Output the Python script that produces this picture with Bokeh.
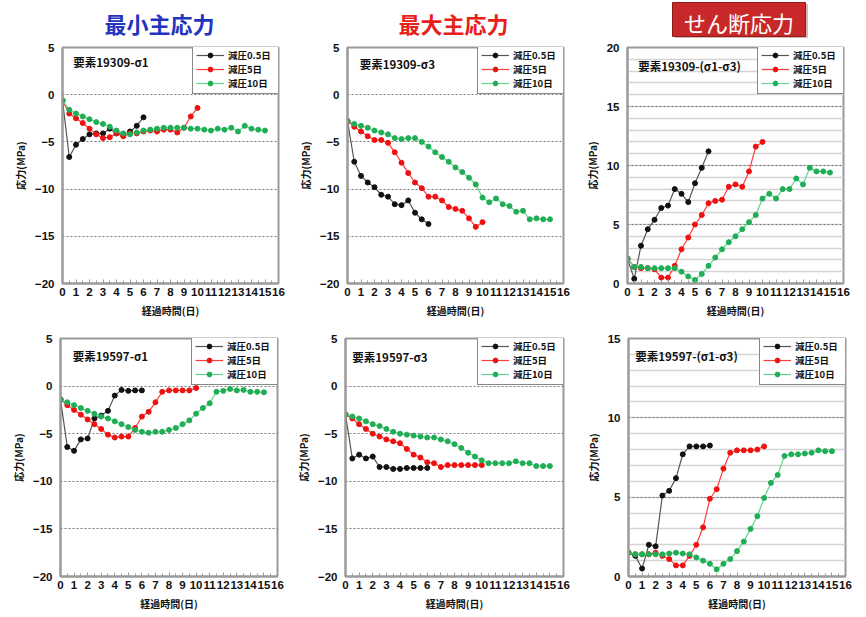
from bokeh.plotting import figure
from bokeh.layouts import column, row
from bokeh.models import Range1d, SingleIntervalTicker, Label
from bokeh.embed import file_html
from bokeh.resources import INLINE
from bokeh.core.properties import value

# ---------------- data ----------------
# elapsed days (0.5-day steps)
t_05 = [0, 0.5, 1, 1.5, 2, 2.5, 3, 3.5, 4, 4.5, 5, 5.5, 6]
t_5 = [0, 0.5, 1, 1.5, 2, 2.5, 3, 3.5, 4, 4.5, 5, 5.5, 6, 6.5, 7, 7.5, 8, 8.5, 9, 9.5, 10]
t_10 = [0, 0.5, 1, 1.5, 2, 2.5, 3, 3.5, 4, 4.5, 5, 5.5, 6, 6.5, 7, 7.5, 8, 8.5, 9, 9.5,
        10, 10.5, 11, 11.5, 12, 12.5, 13, 13.5, 14, 14.5, 15]

series_names = ["減圧0.5日", "減圧5日", "減圧10日"]
headers = ["最小主応力", "最大主応力", "せん断応力"]
x_title = "経過時間(日)"
y_title = "応力(MPa)"

# element 19309, sigma1
e19309_s1_05 = [-0.6, -6.6, -5.3, -4.7, -4.2, -4.1, -4.1, -3.6, -4.1, -4.3, -3.9, -3.3, -2.4]
e19309_s1_5 = [-0.6, -2.0, -2.5, -3.0, -3.6, -4.2, -4.6, -4.5, -4.1, -4.4, -4.1, -4.1, -3.9,
               -3.8, -3.9, -3.7, -3.7, -4.0, -3.5, -2.3, -1.4]
e19309_s1_10 = [-0.6, -1.6, -2.0, -2.3, -2.6, -2.9, -3.1, -3.4, -3.8, -4.1, -4.2, -4.0, -3.8,
                -3.7, -3.6, -3.5, -3.5, -3.5, -3.5, -3.6, -3.6, -3.7, -3.8, -3.6, -3.7, -3.5,
                -3.9, -3.3, -3.6, -3.7, -3.8]
# element 19309, sigma3
e19309_s3_05 = [-2.8, -7.1, -8.6, -9.3, -9.8, -10.6, -10.8, -11.6, -11.7, -11.2, -12.5, -13.2, -13.7]
e19309_s3_5 = [-2.8, -3.4, -3.9, -4.4, -4.8, -4.8, -5.1, -6.1, -7.2, -8.3, -9.3, -9.9, -10.8,
               -10.8, -11.2, -11.9, -12.1, -12.3, -13.1, -14.0, -13.5]
e19309_s3_10 = [-2.8, -3.1, -3.3, -3.5, -3.8, -4.0, -4.2, -4.6, -4.7, -4.6, -4.6, -5.0, -5.5,
                -6.1, -6.6, -7.1, -7.7, -8.2, -8.8, -9.5, -10.9, -11.4, -11.0, -11.6, -11.8,
                -12.4, -12.3, -13.2, -13.1, -13.2, -13.2]
# element 19309, sigma1 - sigma3
e19309_sh_05 = [2.1, 0.4, 3.2, 4.6, 5.4, 6.4, 6.6, 8.0, 7.6, 6.9, 8.5, 9.8, 11.2]
e19309_sh_5 = [2.1, 1.4, 1.3, 1.3, 1.2, 0.5, 0.5, 1.5, 2.9, 3.9, 5.0, 5.8, 6.8, 7.0, 7.1, 8.2,
               8.4, 8.2, 9.5, 11.6, 12.0]
e19309_sh_10 = [2.1, 1.4, 1.4, 1.3, 1.3, 1.3, 1.3, 1.3, 1.0, 0.6, 0.3, 0.8, 1.5, 2.2, 2.9, 3.5,
                4.0, 4.6, 5.2, 5.8, 7.2, 7.6, 7.2, 8.0, 8.0, 8.9, 8.4, 9.8, 9.5, 9.5, 9.4]
# element 19597, sigma1
e19597_s1_05 = [-1.4, -6.4, -6.8, -5.6, -5.5, -3.4, -3.1, -2.6, -1.0, -0.4, -0.5, -0.45, -0.45]
e19597_s1_5 = [-1.4, -2.0, -2.5, -3.0, -3.5, -4.0, -4.5, -5.1, -5.4, -5.3, -5.3, -4.4, -3.2,
               -2.7, -1.7, -0.6, -0.45, -0.45, -0.45, -0.45, -0.2]
e19597_s1_10 = [-1.4, -1.7, -2.0, -2.3, -2.6, -2.9, -3.2, -3.4, -3.7, -4.0, -4.3, -4.6, -4.8,
                -4.9, -4.8, -4.8, -4.6, -4.4, -4.0, -3.6, -2.9, -2.3, -1.8, -0.6, -0.5, -0.3,
                -0.45, -0.4, -0.6, -0.6, -0.65]
# element 19597, sigma3
e19597_s3_05 = [-3.0, -7.6, -7.2, -7.6, -7.4, -8.5, -8.5, -8.7, -8.7, -8.6, -8.6, -8.6, -8.6]
e19597_s3_5 = [-3.0, -3.4, -4.0, -4.5, -5.0, -5.3, -5.6, -5.8, -6.0, -6.6, -7.2, -7.5, -8.0,
               -8.1, -8.5, -8.3, -8.3, -8.3, -8.3, -8.3, -8.3]
e19597_s3_10 = [-3.0, -3.2, -3.4, -3.7, -4.0, -4.2, -4.5, -4.8, -5.0, -5.1, -5.2, -5.3, -5.4,
                -5.4, -5.6, -5.8, -6.1, -6.5, -7.0, -7.4, -7.8, -8.1, -8.1, -8.1, -8.1, -7.9,
                -8.1, -8.1, -8.4, -8.4, -8.4]
# element 19597, sigma1 - sigma3
e19597_sh_05 = [1.5, 1.3, 0.5, 2.0, 1.9, 5.1, 5.4, 6.2, 7.7, 8.2, 8.2, 8.2, 8.25]
e19597_sh_5 = [1.5, 1.4, 1.4, 1.4, 1.5, 1.3, 1.1, 0.7, 0.7, 1.3, 2.0, 3.1, 4.9, 5.5, 6.8, 7.8,
               7.95, 7.95, 7.95, 8.0, 8.2]
e19597_sh_10 = [1.5, 1.4, 1.4, 1.4, 1.4, 1.4, 1.45, 1.5, 1.45, 1.4, 1.2, 1.0, 0.8, 0.45, 0.8,
                1.1, 1.6, 2.2, 3.0, 3.8, 4.95, 5.9, 6.4, 7.6, 7.7, 7.7, 7.75, 7.8, 7.95, 7.9, 7.9]

panel_titles = ["要素19309-σ1", "要素19309-σ3", "要素19309-(σ1-σ3)",
                "要素19597-σ1", "要素19597-σ3", "要素19597-(σ1-σ3)"]

# ---------------- styling ----------------
JP = "Noto Sans CJK JP"
NUM = "Liberation Sans"
LINE_COLORS = ["#555555", "#ff3b3b", "#5fd48a"]
DOT_COLORS = ["#111111", "#ee1111", "#1fae55"]
FRAME = "#9a9a9a"


def make_panel(w, h, bl, br, bt, bb, yr, shear, title, tx, ty, ys):
    p = figure(width=w, height=h, output_backend="svg", toolbar_location=None,
               x_range=Range1d(0, 16), y_range=Range1d(*yr),
               min_border_left=bl, min_border_right=br, min_border_top=bt, min_border_bottom=bb,
               background_fill_color="white", border_fill_color="white")
    p.outline_line_color = FRAME
    p.outline_line_width = 2
    p.xaxis.ticker = SingleIntervalTicker(interval=1, num_minor_ticks=2)
    p.yaxis.ticker = SingleIntervalTicker(interval=5, num_minor_ticks=5)
    for ax in (p.xaxis[0], p.yaxis[0]):
        ax.axis_line_color = FRAME
        ax.axis_line_width = 2
        ax.major_tick_in = 4
        ax.major_tick_out = 0
        ax.major_tick_line_color = FRAME
        ax.major_label_text_font = NUM
        ax.major_label_text_font_style = "bold"
        ax.major_label_text_font_size = "11.5px"
        ax.major_label_text_color = "#111111"
        ax.major_label_standoff = 4
        ax.axis_label_text_font = JP
        ax.axis_label_text_font_style = "bold"
        ax.axis_label_text_font_size = "10px"
        ax.axis_label_text_color = "#111111"
        ax.axis_label_standoff = 4
    p.xaxis.minor_tick_in = 3
    p.xaxis.minor_tick_out = 0
    p.xaxis.minor_tick_line_color = FRAME
    p.yaxis.minor_tick_line_color = None
    p.yaxis.major_tick_in = 0
    p.xaxis.axis_label = x_title
    p.yaxis.axis_label = y_title
    p.xgrid.visible = False
    p.ygrid.grid_line_color = "#7a7a7a"
    p.ygrid.grid_line_dash = "2 2"
    p.ygrid.grid_line_width = 1
    if shear:
        p.ygrid.minor_grid_line_color = "#d4d4d4"
        p.ygrid.minor_grid_line_width = 1.5
    ts = [t_05, t_5, t_10]
    for i, yv in enumerate(ys):
        p.line(ts[i], yv, line_color=LINE_COLORS[i], line_width=1.2, legend_label=series_names[i])
        p.scatter(ts[i], yv, marker="circle", size=5, fill_color=DOT_COLORS[i],
                  line_color=DOT_COLORS[i], legend_label=series_names[i])
    fw = w - bl - br
    fh = h - bt - bb
    lg = p.legend[0]
    lg.location = (fw - 86, fh - 5 - 42)
    lg.border_line_color = "#111111"
    lg.border_line_width = 1
    lg.background_fill_alpha = 1
    lg.margin = 0
    lg.padding = 3
    lg.spacing = 0
    lg.glyph_width = 28
    lg.glyph_height = 12
    lg.label_height = 12
    lg.label_width = 47
    lg.label_standoff = 4
    lg.label_text_font = JP
    lg.label_text_font_style = "bold"
    lg.label_text_font_size = "9.5px"
    lg.label_text_color = "#111111"
    p.add_layout(Label(x=tx, y=ty, text=title, text_font=JP, text_font_style="bold",
                       text_font_size="11.5px", text_color="#111111", text_baseline="middle"))
    return p


p1 = make_panel(290, 282, 62, 12, 9, 37, (-20, 5), False, panel_titles[0], 0.8, 3.5,
                [e19309_s1_05, e19309_s1_5, e19309_s1_10])
p2 = make_panel(287, 282, 57, 14, 9, 37, (-20, 5), False, panel_titles[1], 0.9, 3.3,
                [e19309_s3_05, e19309_s3_5, e19309_s3_10])
p3 = make_panel(287, 282, 50, 21, 9, 37, (0, 20), True, panel_titles[2], 0.8, 18.4,
                [e19309_sh_05, e19309_sh_5, e19309_sh_10])
p4 = make_panel(290, 295, 60, 13, 18, 39, (-20, 5), False, panel_titles[3], 0.9, 3.2,
                [e19597_s1_05, e19597_s1_5, e19597_s1_10])
p5 = make_panel(287, 295, 55, 14, 18, 39, (-20, 5), False, panel_titles[4], 0.5, 3.1,
                [e19597_s3_05, e19597_s3_5, e19597_s3_10])
p6 = make_panel(287, 295, 51, 19, 18, 39, (0, 15), True, panel_titles[5], 0.5, 13.9,
                [e19597_sh_05, e19597_sh_5, e19597_sh_10])

# ---------------- header ----------------
hd = figure(width=864, height=38, output_backend="svg", toolbar_location=None,
            x_range=Range1d(0, 864), y_range=Range1d(0, 38),
            min_border_left=0, min_border_right=0, min_border_top=0, min_border_bottom=0)
hd.axis.visible = False
hd.grid.visible = False
hd.outline_line_color = None
hd.rect(x=[741], y=[17.5], width=[133], height=[34], fill_color="#7a1414", line_color=None,
        fill_alpha=0.3)
hd.rect(x=[738.5], y=[19], width=[133], height=[34], fill_color="#c8282a", line_color="#8e1a1a",
        line_width=1)
hd.text(x=[159], y=[15.5], text=[headers[0]], text_font=value(JP), text_font_style="bold",
        text_font_size="22px", text_color="#2233c0", text_align="center", text_baseline="middle")
hd.text(x=[453], y=[15.5], text=[headers[1]], text_font=value(JP), text_font_style="bold",
        text_font_size="22px", text_color="#e8201a", text_align="center", text_baseline="middle")
hd.text(x=[738.5], y=[17], text=[headers[2]], text_font=value(JP), text_font_style="normal",
        text_font_size="22px", text_color="white", text_align="center", text_baseline="middle")

layout = column(hd, row(p1, p2, p3), row(p4, p5, p6))
layout.spacing = 0

open("out.html", "w").write(file_html(layout, INLINE))
